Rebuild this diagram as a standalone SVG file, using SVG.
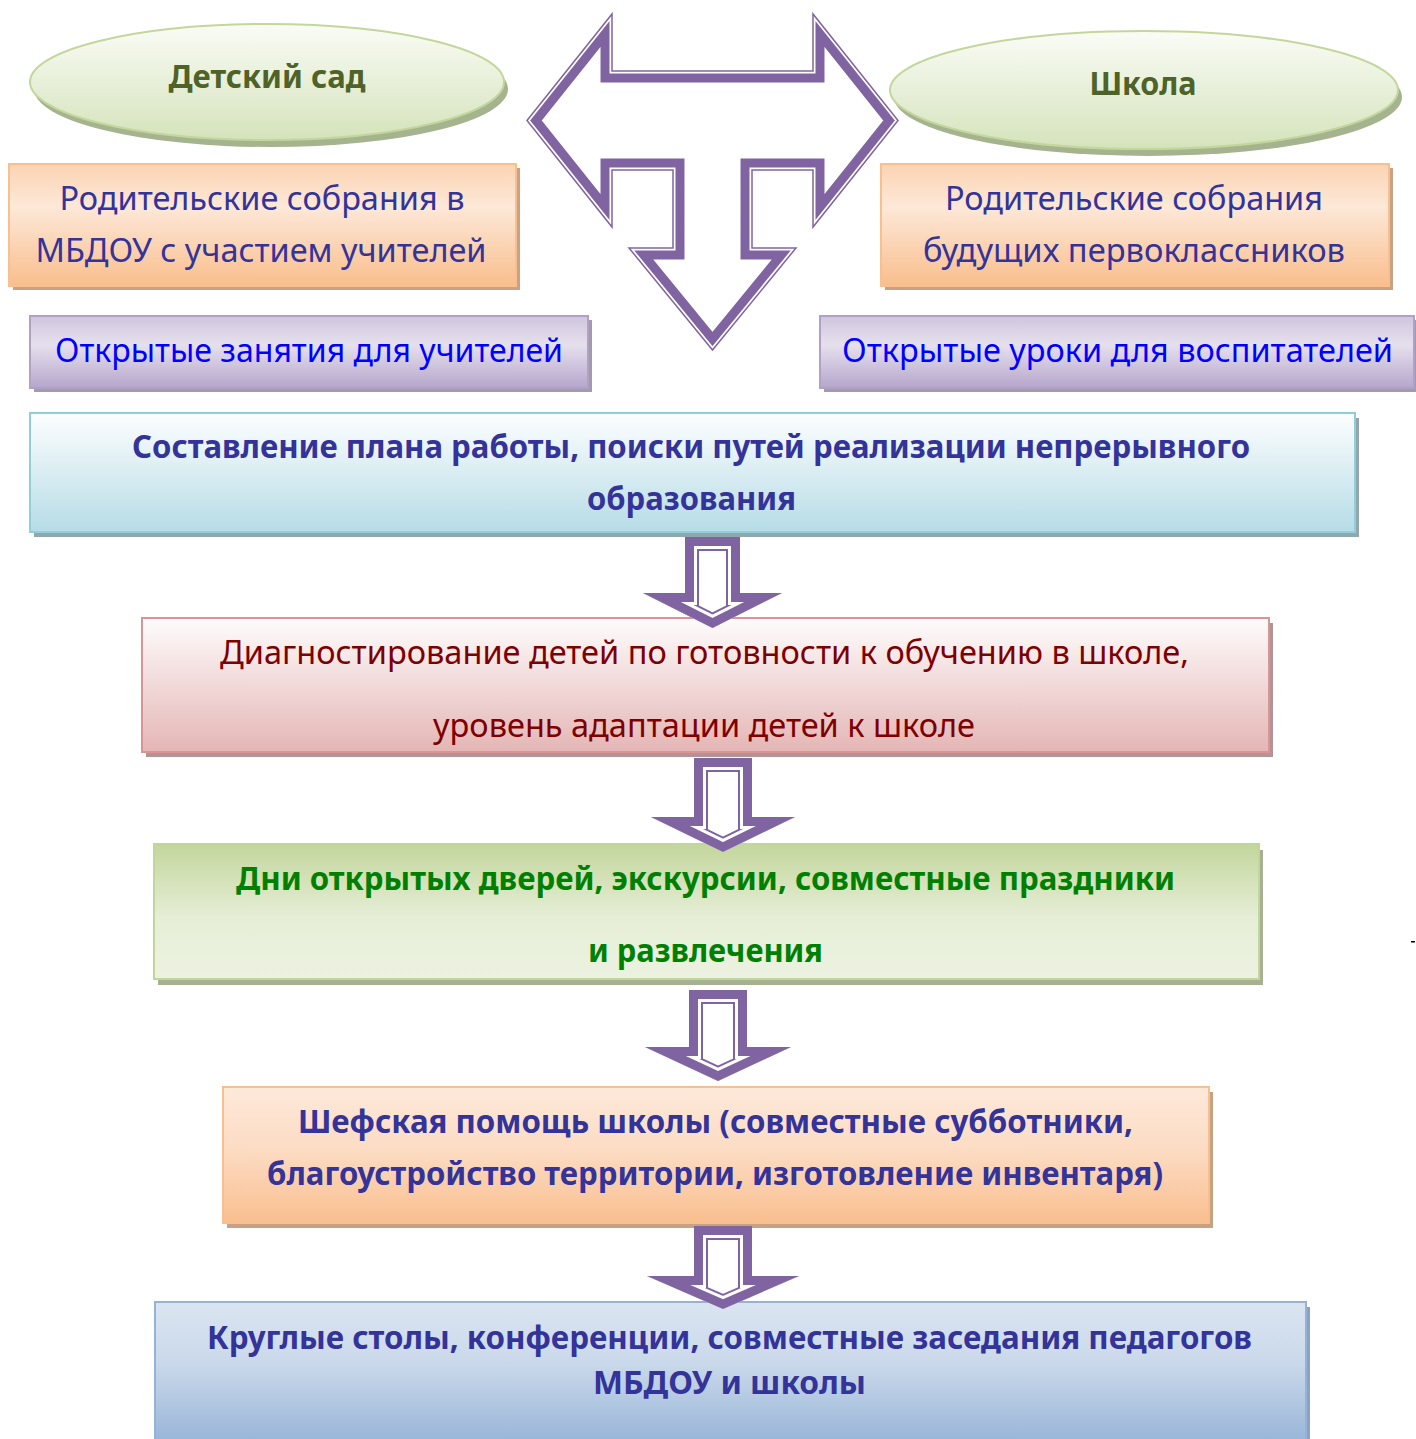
<svg xmlns="http://www.w3.org/2000/svg" xmlns:xlink="http://www.w3.org/1999/xlink" width="1416" height="1439" viewBox="0 0 1416 1439">
<style>
.t{font-family:"Noto Sans","Open Sans","DejaVu Sans",sans-serif;font-size:32px;text-anchor:middle}
.b{font-weight:bold}
.e{font-size:33px}
.navy{fill:#333399}
.blue{fill:#0000ff}
.red{fill:#7f0000}
.green{fill:#008000}
.olive{fill:#4f6228}
.thin{fill:none;stroke:#8064a2;stroke-width:1.5}
.sh{stroke:none}
</style>
<defs>
<linearGradient id="gEll" x1="0" y1="0" x2="0" y2="1">
<stop offset="0" stop-color="#fafcf6"/><stop offset="1" stop-color="#d5e3bb"/>
</linearGradient>
<linearGradient id="gOr" x1="0" y1="0" x2="0" y2="1">
<stop offset="0" stop-color="#fbd3b2"/><stop offset="0.35" stop-color="#fde8d8"/><stop offset="1" stop-color="#f9be8c"/>
</linearGradient>
<linearGradient id="gOr2" x1="0" y1="0" x2="0" y2="1">
<stop offset="0" stop-color="#fde9da"/><stop offset="0.45" stop-color="#fcdcc4"/><stop offset="1" stop-color="#f9bf8f"/>
</linearGradient>
<linearGradient id="gPu" x1="0" y1="0" x2="0" y2="1">
<stop offset="0" stop-color="#cfc5de"/><stop offset="0.4" stop-color="#e6e0ed"/><stop offset="1" stop-color="#b5a6cc"/>
</linearGradient>
<linearGradient id="gBl" x1="0" y1="0" x2="0" y2="1">
<stop offset="0" stop-color="#fdfeff"/><stop offset="1" stop-color="#b6dce6"/>
</linearGradient>
<linearGradient id="gPk" x1="0" y1="0" x2="0" y2="1">
<stop offset="0" stop-color="#fefcfc"/><stop offset="1" stop-color="#e4b6b5"/>
</linearGradient>
<linearGradient id="gGr" x1="0" y1="0" x2="0" y2="1">
<stop offset="0" stop-color="#c3d69c"/><stop offset="0.55" stop-color="#e6eed7"/><stop offset="1" stop-color="#ecf2e0"/>
</linearGradient>
<linearGradient id="gBl2" x1="0" y1="0" x2="0" y2="1">
<stop offset="0" stop-color="#dbe5f1"/><stop offset="0.45" stop-color="#c9d8ea"/><stop offset="1" stop-color="#98b5d8"/>
</linearGradient>
<path id="pBig" d="M527,120.5 L612,14 L612,71 L813,71 L813,14 L898,120.5 L813,227 L813,170 L752,170 L752,248 L796,248 L712.5,350 L629,248 L673,248 L673,170 L612,170 L612,227 Z"/>
<path id="pA1" d="M685,537 L740,537 L740,593 L782,593 L712.5,628 L643,593 L685,593 Z"/>
<path id="pA2" d="M694,758 L752,758 L752,817 L795,817 L723,852 L651,817 L694,817 Z"/>
<path id="pA3" d="M689,990 L747,990 L747,1047 L791,1047 L718,1081 L645,1047 L689,1047 Z"/>
<path id="pA4" d="M694,1226 L752,1226 L752,1276 L799,1276 L723,1309 L647,1276 L694,1276 Z"/>
<clipPath id="cBig"><use xlink:href="#pBig"/></clipPath>
<clipPath id="cA1"><use xlink:href="#pA1"/></clipPath>
<clipPath id="cA2"><use xlink:href="#pA2"/></clipPath>
<clipPath id="cA3"><use xlink:href="#pA3"/></clipPath>
<clipPath id="cA4"><use xlink:href="#pA4"/></clipPath>
</defs>
<rect width="1416" height="1439" fill="#ffffff"/>

<g id="node-kindergarten">
<ellipse cx="271" cy="89" rx="237" ry="58" fill="#a5b38e" class="sh"/>
<ellipse cx="267" cy="82" rx="237" ry="58" fill="url(#gEll)" stroke="#c3d69b" stroke-width="2"/>
<text class="t e b olive" x="267" y="88" textLength="197" lengthAdjust="spacingAndGlyphs">Детский сад</text>
</g>

<g id="node-school">
<ellipse cx="1148" cy="97" rx="254" ry="59" fill="#a5b38e" class="sh"/>
<ellipse cx="1144" cy="90" rx="254" ry="59" fill="url(#gEll)" stroke="#c3d69b" stroke-width="2"/>
<text class="t e b olive" x="1143" y="95" textLength="107" lengthAdjust="spacingAndGlyphs">Школа</text>
</g>

<g id="node-parents-kg">
<rect x="13" y="168" width="507" height="122" fill="#c9a285" class="sh"/>
<rect x="9" y="164" width="507" height="122" fill="url(#gOr)" stroke="#fabf8f" stroke-width="2"/>
<text class="t navy" x="262" y="210" textLength="405" lengthAdjust="spacingAndGlyphs">Родительские собрания в</text>
<text class="t navy" x="261" y="262" textLength="451" lengthAdjust="spacingAndGlyphs">МБДОУ с участием учителей</text>
</g>

<g id="node-parents-school">
<rect x="885" y="168" width="508" height="122" fill="#c9a285" class="sh"/>
<rect x="881" y="164" width="508" height="122" fill="url(#gOr)" stroke="#fabf8f" stroke-width="2"/>
<text class="t navy" x="1134" y="210" textLength="378" lengthAdjust="spacingAndGlyphs">Родительские собрания</text>
<text class="t navy" x="1134" y="262" textLength="422" lengthAdjust="spacingAndGlyphs">будущих первоклассников</text>
</g>

<g id="node-open-lessons-kg">
<rect x="34" y="320" width="558" height="72" fill="#a39bab" class="sh"/>
<rect x="30" y="316" width="558" height="72" fill="url(#gPu)" stroke="#b2a1c7" stroke-width="2"/>
<text class="t blue" x="309" y="362" textLength="508" lengthAdjust="spacingAndGlyphs">Открытые занятия для учителей</text>
</g>

<g id="node-open-lessons-school">
<rect x="824" y="320" width="594" height="72" fill="#a39bab" class="sh"/>
<rect x="820" y="316" width="594" height="72" fill="url(#gPu)" stroke="#b2a1c7" stroke-width="2"/>
<text class="t blue" x="1117.5" y="362" textLength="551" lengthAdjust="spacingAndGlyphs">Открытые уроки для воспитателей</text>
</g>

<g id="node-plan">
<rect x="34" y="418" width="1325" height="119" fill="#91a7ac" class="sh"/>
<rect x="30" y="413" width="1325" height="119" fill="url(#gBl)" stroke="#92cddc" stroke-width="2"/>
<text class="t b navy" x="691" y="458" textLength="1118" lengthAdjust="spacingAndGlyphs">Составление плана работы, поиски путей реализации непрерывного</text>
<text class="t b navy" x="691.5" y="510" textLength="209" lengthAdjust="spacingAndGlyphs">образования</text>
</g>

<g id="node-diagnostics">
<rect x="146" y="623" width="1127" height="134" fill="#b39395" class="sh"/>
<rect x="142" y="618" width="1127" height="134" fill="url(#gPk)" stroke="#d99594" stroke-width="2"/>
<text class="t red" x="704.5" y="664" textLength="969" lengthAdjust="spacingAndGlyphs">Диагностирование детей по готовности к обучению в школе,</text>
<text class="t red" x="704" y="737" textLength="542" lengthAdjust="spacingAndGlyphs">уровень адаптации детей к школе</text>
</g>

<g id="node-open-days">
<rect x="158" y="850" width="1105" height="135" fill="#a8b093" class="sh"/>
<rect x="154" y="844" width="1105" height="135" fill="url(#gGr)" stroke="#c2d69b" stroke-width="2"/>
<text class="t b green" x="705.5" y="890" textLength="939" lengthAdjust="spacingAndGlyphs">Дни открытых дверей, экскурсии, совместные праздники</text>
<text class="t b green" x="705.5" y="962" textLength="235" lengthAdjust="spacingAndGlyphs">и развлечения</text>
</g>

<g id="node-patronage">
<rect x="227" y="1092" width="986" height="136" fill="#c8a082" class="sh"/>
<rect x="223" y="1087" width="986" height="136" fill="url(#gOr2)" stroke="#fabf8f" stroke-width="2"/>
<text class="t b navy" x="715.5" y="1133" textLength="835" lengthAdjust="spacingAndGlyphs">Шефская помощь школы (совместные субботники,</text>
<text class="t b navy" x="715" y="1185" textLength="896" lengthAdjust="spacingAndGlyphs">благоустройство территории, изготовление инвентаря)</text>
</g>

<g id="node-round-tables">
<rect x="159" y="1307" width="1151" height="140" fill="#8da3bd" class="sh"/>
<rect x="155" y="1302" width="1151" height="140" fill="url(#gBl2)" stroke="#95b3d7" stroke-width="2"/>
<text class="t b navy" x="729.5" y="1349" textLength="1045" lengthAdjust="spacingAndGlyphs">Круглые столы, конференции, совместные заседания педагогов</text>
<text class="t b navy" x="729.5" y="1394" textLength="273" lengthAdjust="spacingAndGlyphs">МБДОУ и школы</text>
</g>

<g id="connectors">
<g id="arrow-three-way">
<use xlink:href="#pBig" fill="#ffffff"/>
<g clip-path="url(#cBig)">
<use xlink:href="#pBig" fill="none" stroke="#8064a2" stroke-width="23" stroke-miterlimit="10"/>
<use xlink:href="#pBig" fill="none" stroke="#ffffff" stroke-width="5" stroke-miterlimit="10"/>
</g>
<use xlink:href="#pBig" class="thin"/>
</g>
<g id="arrow-1">
<use xlink:href="#pA1" fill="#ffffff"/>
<g clip-path="url(#cA1)">
<use xlink:href="#pA1" fill="none" stroke="#8064a2" stroke-width="28" stroke-miterlimit="10"/>
<use xlink:href="#pA1" fill="none" stroke="#ffffff" stroke-width="24" stroke-miterlimit="10"/>
<use xlink:href="#pA1" fill="none" stroke="#8064a2" stroke-width="18" stroke-miterlimit="10"/>
</g>
</g>
<g id="arrow-2">
<use xlink:href="#pA2" fill="#ffffff"/>
<g clip-path="url(#cA2)">
<use xlink:href="#pA2" fill="none" stroke="#8064a2" stroke-width="28" stroke-miterlimit="10"/>
<use xlink:href="#pA2" fill="none" stroke="#ffffff" stroke-width="24" stroke-miterlimit="10"/>
<use xlink:href="#pA2" fill="none" stroke="#8064a2" stroke-width="18" stroke-miterlimit="10"/>
</g>
</g>
<g id="arrow-3">
<use xlink:href="#pA3" fill="#ffffff"/>
<g clip-path="url(#cA3)">
<use xlink:href="#pA3" fill="none" stroke="#8064a2" stroke-width="28" stroke-miterlimit="10"/>
<use xlink:href="#pA3" fill="none" stroke="#ffffff" stroke-width="24" stroke-miterlimit="10"/>
<use xlink:href="#pA3" fill="none" stroke="#8064a2" stroke-width="18" stroke-miterlimit="10"/>
</g>
</g>
<g id="arrow-4">
<use xlink:href="#pA4" fill="#ffffff"/>
<g clip-path="url(#cA4)">
<use xlink:href="#pA4" fill="none" stroke="#8064a2" stroke-width="28" stroke-miterlimit="10"/>
<use xlink:href="#pA4" fill="none" stroke="#ffffff" stroke-width="24" stroke-miterlimit="10"/>
<use xlink:href="#pA4" fill="none" stroke="#8064a2" stroke-width="18" stroke-miterlimit="10"/>
</g>
</g>
</g>

<rect x="1411" y="941" width="4" height="1.5" fill="#000000"/>
</svg>
